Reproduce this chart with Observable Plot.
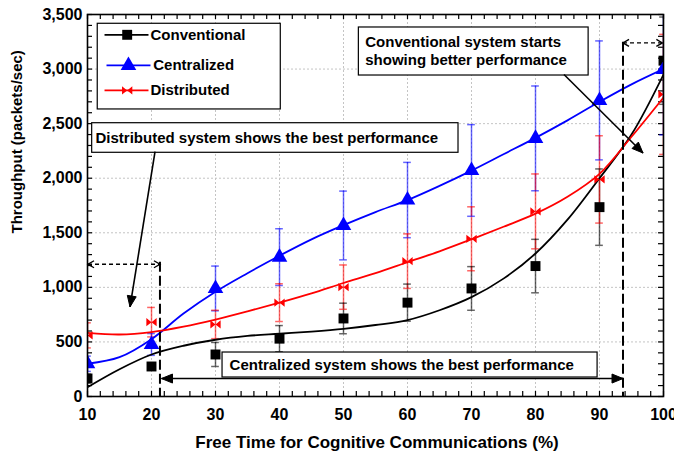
<!DOCTYPE html>
<html>
<head>
<meta charset="utf-8">
<script src="https://cdn.jsdelivr.net/npm/d3@7"></script>
<script src="https://cdn.jsdelivr.net/npm/@observablehq/plot@0.6"></script>
<style>
  html, body { margin: 0; padding: 0; background: #fff; }
  #chart { width: 674px; height: 460px; overflow: hidden; }
</style>
</head>
<body>
<div id="chart"></div>
<script>
// ---------- data ----------
const freeTime = [10, 20, 30, 40, 50, 60, 70, 80, 90, 100];

const conventional    = [165, 275, 385, 530, 715, 860, 990, 1195, 1735, 3077];
const conventionalErr = [40, 30, 110, 120, 140, 170, 200, 245, 350, 400];

const centralized     = [300, 477, 990, 1277, 1567, 1800, 2071, 2365, 2713, 2997];
const centralizedErr  = [70, 100, 205, 260, 315, 345, 420, 480, 545, 600];

const distributed     = [560, 681, 660, 860, 1002, 1240, 1445, 1696, 1989, 2768];
const distributedErr  = [115, 135, 130, 173, 203, 250, 293, 343, 400, 550];

// fitted trend curves
const fitX = [10, 15, 20, 25, 30, 35, 40, 45, 50, 55, 60, 65, 70, 75, 80, 85, 90, 95, 100];
const conventionalFit = [85, 250, 385, 465, 520, 555, 575, 595, 620, 655, 700, 790, 910, 1080, 1310, 1620, 2000, 2400, 2950];
const centralizedFit  = [300, 360, 525, 760, 960, 1130, 1290, 1440, 1570, 1690, 1800, 1930, 2070, 2220, 2370, 2530, 2700, 2860, 3000];
const distributedFit  = [583, 568, 590, 640, 705, 780, 860, 945, 1040, 1130, 1230, 1330, 1440, 1555, 1675, 1830, 2040, 2380, 2740];

const seriesNames = ["Conventional", "Centralized", "Distributed"];
const xTicks = [10, 20, 30, 40, 50, 60, 70, 80, 90, 100];
const yTicks = [0, 500, 1000, 1500, 2000, 2500, 3000, 3500];
const xLabel = "Free Time for Cognitive Communications (%)";
const yLabel = "Throughput (packets/sec)";

const noteDistributed = "Distributed system shows the best performance";
const noteCentralized = "Centralized system shows the best performance";
const noteConventional = ["Conventional system starts", "showing better performance"];

// ---------- styling / layout ----------
const FONT = "'Liberation Sans', Arial, Helvetica, sans-serif";
const colors = {Conventional: "#000000", Centralized: "#0000ff", Distributed: "#ff0000"};

const bowtie = {
  draw(ctx, size) {
    const s = Math.sqrt(size) / 2;
    const h = s * 0.8;
    ctx.moveTo(-s, -h); ctx.lineTo(0, 0); ctx.lineTo(-s, h); ctx.closePath();
    ctx.moveTo(s, -h); ctx.lineTo(0, 0); ctx.lineTo(s, h); ctx.closePath();
  }
};
const symbols = {Conventional: "square", Centralized: "triangle", Distributed: bowtie};
const symbolR = {Conventional: 5.6, Centralized: 5.8, Distributed: 5.8};

// build tables
const points = [];
[[conventional, conventionalErr], [centralized, centralizedErr], [distributed, distributedErr]].forEach(([vals, errs], k) => {
  vals.forEach((v, i) => points.push({series: seriesNames[k], x: freeTime[i], y: v, err: errs[i]}));
});
const fits = [];
[conventionalFit, centralizedFit, distributedFit].forEach((vals, k) => {
  vals.forEach((v, i) => fits.push({series: seriesNames[k], x: fitX[i], y: v}));
});

const W = 674, H = 460;
const mL = 87, mR = 11, mT = 14, mB = 64;
const fW = W - mL - mR, fH = H - mT - mB;
const tickLen = 5;
const capHalf = 0.6;

const xMinor = d3.range(10, 100.01, 2);
const yMinor = d3.range(0, 3500.01, 100);

// annotation geometry (data coordinates)
const legendBox = {x1: 11.6, x2: 40.2, y1: 2630, y2: 3415};
const legendRows = [
  {series: "Conventional", y: 3314, lx1: 12.66, lx2: 19.53, mx: 16.2, tx: 19.84},
  {series: "Centralized",  y: 3033, lx1: 12.97, lx2: 19.84, mx: 16.4, tx: 20.27},
  {series: "Distributed",  y: 2804, lx1: 12.66, lx2: 19.53, mx: 16.2, tx: 19.84}
];
const boxes = [
  {x1: 10.73, x2: 67.97, y1: 2233, y2: 2504},
  {x1: 52.4, x2: 88.3, y1: 2941, y2: 3381},
  {x1: 31.1, x2: 89.7, y1: 174, y2: 403}
];
const notes = [
  {text: noteDistributed, x: 11.25, y: 2364},
  {text: noteConventional[0], x: 53.4, y: 3246},
  {text: noteConventional[1], x: 53.4, y: 3078},
  {text: noteCentralized, x: 32.2, y: 284}
];
const arrows = [
  {x1: 20.63, y1: 2238, x2: 16.72, y2: 816, head: "end", style: "solid"},
  {x1: 84.53, y1: 2946, x2: 96.88, y2: 2226, head: "end", style: "solid"},
  {x1: 21.64, y1: 160, x2: 93.75, y2: 160, head: "both", style: "solid"},
  {x1: 10.16, y1: 1207, x2: 21.4, y2: 1207, head: "both", style: "thin"},
  {x1: 93.75, y1: 3235, x2: 99.9, y2: 3235, head: "both", style: "thin"},
  {x1: 21.4, y1: 1230, x2: 21.4, y2: 0, head: "none", style: "dashed"},
  {x1: 93.75, y1: 3245, x2: 93.75, y2: 0, head: "none", style: "dashed"}
];

function arrowMark(list) {
  return (index, scales) => {
    const sx = scales.x, sy = scales.y;
    const g = d3.create("svg:g");
    for (const a of list) {
      const X1 = sx(a.x1), Y1 = sy(a.y1), X2 = sx(a.x2), Y2 = sy(a.y2);
      const line = g.append("line")
        .attr("x1", X1).attr("y1", Y1).attr("x2", X2).attr("y2", Y2)
        .attr("stroke", "#000").attr("fill", "none");
      if (a.style === "solid") line.attr("stroke-width", 1.6);
      if (a.style === "thin") line.attr("stroke-width", 1.4).attr("stroke-dasharray", "4,3");
      if (a.style === "dashed") line.attr("stroke-width", 2).attr("stroke-dasharray", "10,4");
      const ang = Math.atan2(Y2 - Y1, X2 - X1);
      const heads = a.head === "both" ? [[X2, Y2, ang], [X1, Y1, ang + Math.PI]] : a.head === "end" ? [[X2, Y2, ang]] : [];
      for (const [hx, hy, t] of heads) {
        const L = a.style === "thin" ? 6 : 11, w = a.style === "thin" ? 3.5 : 4.5;
        const bx = hx - L * Math.cos(t), by = hy - L * Math.sin(t);
        const px = -Math.sin(t) * w, py = Math.cos(t) * w;
        const pts = [[bx + px, by + py], [hx, hy], [bx - px, by - py]];
        if (a.style === "thin") {
          g.append("polyline").attr("points", pts.map(p => p.join(",")).join(" "))
            .attr("fill", "none").attr("stroke", "#000").attr("stroke-width", 1.4);
        } else {
          g.append("polygon").attr("points", pts.map(p => p.join(",")).join(" "))
            .attr("fill", "#000").attr("stroke", "#000").attr("stroke-width", 1);
        }
      }
    }
    return g.node();
  };
}

const marks = [
  // grid
  Plot.ruleX(xTicks.slice(1, -1), {x: d => d, stroke: "#c4c4c4", strokeDasharray: "2,2", strokeWidth: 1}),
  Plot.ruleY(yTicks.slice(1, -1), {y: d => d, stroke: "#c4c4c4", strokeDasharray: "2,2", strokeWidth: 1}),
  // inward ticks
  Plot.tickX(xMinor, {x: d => d, insetTop: fH - tickLen, stroke: "#000", strokeWidth: 1.2}),
  Plot.tickX(xMinor, {x: d => d, insetBottom: fH - tickLen, stroke: "#000", strokeWidth: 1.2}),
  Plot.tickY(yMinor, {y: d => d, insetRight: fW - tickLen, stroke: "#000", strokeWidth: 1.2}),
  Plot.tickY(yMinor, {y: d => d, insetLeft: fW - tickLen, stroke: "#000", strokeWidth: 1.2}),
  // error bars
  Plot.ruleX(points, {x: "x", y1: d => d.y - d.err, y2: d => d.y + d.err, stroke: d => colors[d.series], strokeOpacity: 0.6, strokeWidth: 1.5, clip: true}),
  Plot.ruleY(points, {y: d => d.y - d.err, x1: d => d.x - capHalf, x2: d => d.x + capHalf, stroke: d => colors[d.series], strokeOpacity: 0.6, strokeWidth: 1.5, clip: true}),
  Plot.ruleY(points, {y: d => d.y + d.err, x1: d => d.x - capHalf, x2: d => d.x + capHalf, stroke: d => colors[d.series], strokeOpacity: 0.6, strokeWidth: 1.5, clip: true}),
  // fitted curves
  Plot.line(fits, {x: "x", y: "y", z: "series", stroke: d => colors[d.series], strokeWidth: 1.8, curve: "catmull-rom", clip: true}),
  // markers
  ...seriesNames.map(s => Plot.dot(points.filter(d => d.series === s), {
    x: "x", y: "y", symbol: () => symbols[s], r: symbolR[s], fill: colors[s], stroke: "none", clip: true
  })),
  // legend
  Plot.rect([legendBox], {x1: "x1", x2: "x2", y1: "y1", y2: "y2", fill: "#fff", stroke: "#000", strokeWidth: 1.2}),
  Plot.link(legendRows, {x1: "lx1", x2: "lx2", y1: "y", y2: "y", stroke: d => colors[d.series], strokeWidth: 1.8}),
  ...legendRows.map(r => Plot.dot([r], {x: "mx", y: "y", symbol: () => symbols[r.series], r: symbolR[r.series], fill: colors[r.series], stroke: "none"})),
  Plot.text(legendRows, {x: "tx", y: "y", text: "series", textAnchor: "start", fontSize: 15, fontWeight: "bold", fill: "#000", fontFamily: FONT}),
  // annotation boxes & notes
  Plot.rect(boxes, {x1: "x1", x2: "x2", y1: "y1", y2: "y2", fill: "#fff", stroke: "#000", strokeWidth: 1.2}),
  Plot.text(notes, {x: "x", y: "y", text: "text", textAnchor: "start", fontSize: 15, fontWeight: "bold", fill: "#000", fontFamily: FONT}),
  arrowMark(arrows),
  // axes labels
  Plot.axisX(xTicks, {tickSize: 0, tickPadding: 12, fontSize: 16, fontWeight: "bold", fill: "#000", label: null, tickFormat: d => String(d)}),
  Plot.axisY(yTicks, {tickSize: 0, tickPadding: 5, fontSize: 16, fontWeight: "bold", fill: "#000", label: null, tickFormat: d3.format(",")}),
  Plot.text([xLabel], {frameAnchor: "bottom", dx: 1.5, dy: 51, fontSize: 17, fontWeight: "bold", fill: "#000", fontFamily: FONT}),
  Plot.text([yLabel], {frameAnchor: "left", dx: -70.5, dy: 28, rotate: -90, fontSize: 15, fontWeight: "bold", fill: "#000", fontFamily: FONT}),
  Plot.frame({stroke: "#000", strokeWidth: 1.6})
];

const chart = Plot.plot({
  width: W, height: H,
  marginLeft: mL, marginRight: mR, marginTop: mT, marginBottom: mB,
  style: {fontFamily: FONT, background: "#fff", color: "#000", overflow: "visible"},
  x: {domain: [10, 100], axis: null},
  y: {domain: [0, 3500], axis: null},
  marks
});
document.getElementById("chart").appendChild(chart);
</script>
</body>
</html>
